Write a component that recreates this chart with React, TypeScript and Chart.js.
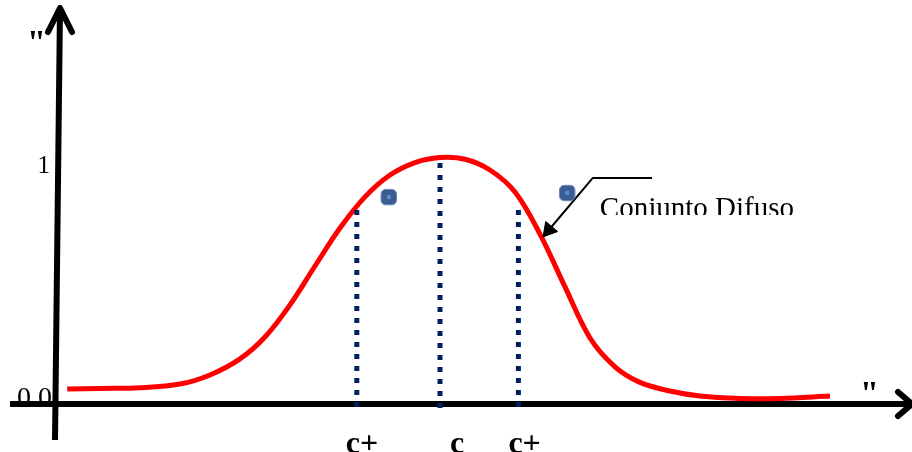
import React, { useEffect, useRef } from 'react';
import { Chart, registerables } from 'chart.js';

Chart.register(...registerables);

// Membership curve (x: universe units, y: membership degree)
const curveX = [-4.66, -4.25, -3.75, -3.25, -2.875, -2.5, -2.1875, -1.875, -1.5625, -1.25, -0.9375, -0.625, -0.3125, 0, 0.3125, 0.625, 0.9375, 1.25, 1.5625, 1.875, 2.1875, 2.5, 2.875, 3.25, 3.75, 4.25, 4.875];
const curveY = [0.062, 0.065, 0.068, 0.083, 0.121, 0.188, 0.279, 0.413, 0.575, 0.733, 0.863, 0.954, 1.006, 1.027, 1.02, 0.975, 0.883, 0.708, 0.488, 0.275, 0.155, 0.09, 0.054, 0.033, 0.023, 0.023, 0.033];

// Reference points c-, c, c+
const cValues = [-1.04, 0, 0.98];
const cTops = [0.808, 1.004, 0.808];
const cBottom = -0.02;
const cLabels = ['c+', 'c', 'c+'];

// Y tick labels
const yTickValues = [1, 0];
const yTickLabels = ['1', '0 0'];

// Small square markers
const markerX = [-0.64, 1.59];
const markerY = [0.862, 0.879];

// Callout
const calloutText = 'Conjunto Difuso';
const calloutX = [2.65, 1.91, 1.36];
const calloutY = [0.942, 0.942, 0.725];

// Axes
const axisQuote = '"';
const xAxisX = [-5.375, 5.9];
const xAxisY = [0, 0];
const xArrowX = [5.725, 5.9, 5.725];
const xArrowY = [0.05, 0, -0.05];
const yAxisX = [-4.8125, -4.75];
const yAxisY = [-0.15, 1.65];
const yArrowX = [-4.9, -4.75, -4.6];
const yArrowY = [1.55, 1.65, 1.55];

const pts = (xs: number[], ys: number[]) => xs.map((x, i) => ({ x, y: ys[i] }));

const SERIF = '"Liberation Serif", "Times New Roman", serif';

const labelsBehind = {
  id: 'labelsBehind',
  beforeDatasetsDraw(chart: any) {
    const { ctx } = chart;
    const ys = chart.scales.y;
    ctx.save();
    ctx.fillStyle = '#000';
    ctx.textAlign = 'right';
    ctx.textBaseline = 'alphabetic';
    const sizes = [25, 28];
    const rights = [50, 52];
    const dy = [9, 2];
    yTickValues.forEach((v, i) => {
      ctx.font = `${sizes[i]}px ${SERIF}`;
      ctx.fillText(yTickLabels[i], rights[i], ys.getPixelForValue(v) + dy[i]);
    });
    ctx.restore();
  },
};

const labelsFront = {
  id: 'labelsFront',
  afterDatasetsDraw(chart: any) {
    const { ctx } = chart;
    const xs = chart.scales.x;
    const ys = chart.scales.y;
    ctx.save();
    ctx.fillStyle = '#000';
    ctx.textBaseline = 'alphabetic';
    // bottom c labels
    ctx.font = `bold 32px ${SERIF}`;
    ctx.textAlign = 'left';
    const offs = [-11, 10, -10];
    cValues.forEach((v, i) => {
      ctx.fillText(cLabels[i], xs.getPixelForValue(v) + offs[i], 453);
    });
    // axis quote marks
    ctx.font = `bold 34px ${SERIF}`;
    ctx.fillText(axisQuote, xs.getPixelForValue(yAxisX[1]) - 33, ys.getPixelForValue(yAxisY[1]) + 45);
    ctx.fillText(axisQuote, xs.getPixelForValue(xAxisX[1]) - 52, ys.getPixelForValue(0) + 0);
    // callout text, clipped
    ctx.save();
    ctx.beginPath();
    ctx.rect(0, 0, chart.width, 215);
    ctx.clip();
    ctx.font = `29px ${SERIF}`;
    ctx.fillText(calloutText, xs.getPixelForValue(calloutX[1]) + 7, 217);
    ctx.restore();
    ctx.restore();
  },
};

export default function App() {
  const ref = useRef<HTMLCanvasElement | null>(null);
  useEffect(() => {
    document.body.style.margin = '0';
    if (!ref.current) return;
    const black = '#000000';
    const navy = '#002060';
    const line = (data: any, extra: any = {}) => ({
      type: 'line',
      data,
      borderColor: black,
      borderWidth: 6,
      pointRadius: 0,
      tension: 0,
      fill: false,
      clip: false,
      ...extra,
    });
    const datasets: any[] = [
      line(pts(xAxisX, xAxisY), { order: 10 }),
      line(pts(xArrowX, xArrowY), { order: 10, borderJoinStyle: 'miter', borderCapStyle: 'round' }),
      line(pts(yAxisX, yAxisY), { order: 10 }),
      line(pts(yArrowX, yArrowY), { order: 10, borderJoinStyle: 'round', borderCapStyle: 'round' }),
      line(pts(curveX, curveY), { order: 8, borderColor: '#ff0000', borderWidth: 5, tension: 0.35 }),
      ...cValues.map((v, i) =>
        line([{ x: v, y: cTops[i] }, { x: v, y: cBottom }], { order: 6, borderColor: navy, borderWidth: 5, borderDash: [5, 7] })
      ),
      line(pts(calloutX, calloutY), {
        order: 4,
        borderWidth: 2,
        pointStyle: 'triangle',
        pointRadius: [0, 0, 9],
        pointRotation: 220,
        pointBackgroundColor: black,
        pointBorderColor: black,
        pointBorderWidth: 1,
      }),
      {
        type: 'scatter',
        data: pts(markerX, markerY),
        pointStyle: 'rectRounded',
        pointRadius: 9,
        pointBackgroundColor: '#3b5d92',
        pointBorderColor: '#6b8bbb',
        pointBorderWidth: 1,
        order: 3,
        clip: false,
      },
      {
        type: 'scatter',
        data: pts(markerX, markerY),
        pointStyle: 'rect',
        pointRadius: 2.8,
        pointBackgroundColor: '#5d8ad0',
        pointBorderWidth: 0,
        order: 2,
        clip: false,
      },
    ];
    const chart = new Chart(ref.current, {
      type: 'line',
      data: { datasets },
      options: {
        animation: false,
        responsive: true,
        maintainAspectRatio: false,
        layout: { padding: 0, autoPadding: false },
        events: [],
        scales: {
          x: { type: 'linear', min: -5.5, max: 5.9, display: false },
          y: { type: 'linear', min: -0.2, max: 404 / 240, display: false },
        },
        plugins: { legend: { display: false }, tooltip: { enabled: false } },
      },
      plugins: [labelsBehind, labelsFront],
    } as any);
    return () => chart.destroy();
  }, []);
  return (
    <div style={{ position: 'fixed', left: 0, top: 0, width: 912, height: 452, background: '#fff' }}>
      <canvas ref={ref} />
    </div>
  );
}
